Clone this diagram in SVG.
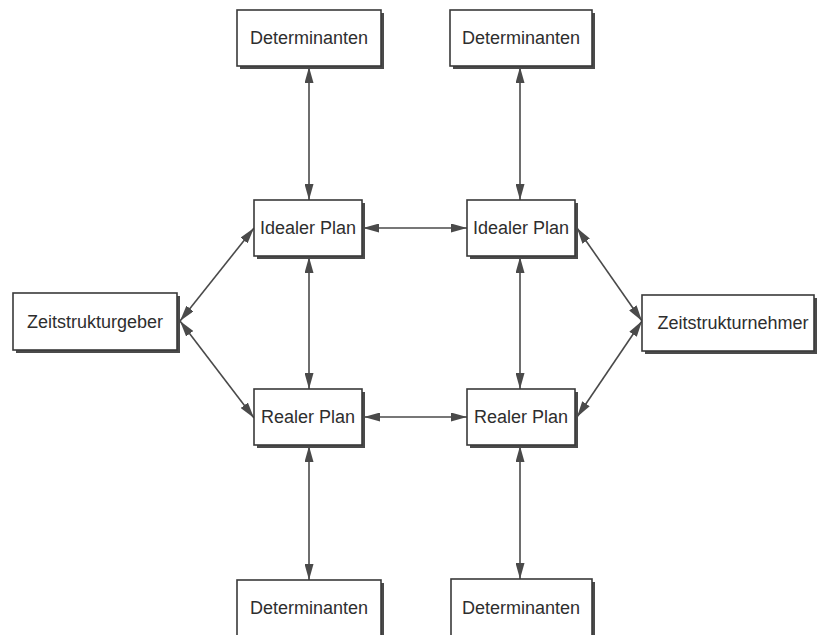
<svg xmlns="http://www.w3.org/2000/svg" width="817" height="635" viewBox="0 0 817 635">
<defs>
<style>
.box{fill:#fff;stroke:#3a3a3a;stroke-width:1.6}
.sh{fill:#4a4a4a}
.lbl{font-family:"Liberation Sans",Arial,sans-serif;font-size:18px;fill:#2e2e2e;text-anchor:middle}
.con{stroke:#4a4a4a;stroke-width:1.6;fill:none;marker-start:url(#ah);marker-end:url(#ah)}
</style>
<marker id="ah" viewBox="0 0 16 9" refX="16" refY="4.5" markerWidth="16" markerHeight="9" markerUnits="userSpaceOnUse" orient="auto-start-reverse">
<path d="M0,0 L16,4.5 L0,9 z" fill="#4a4a4a"/>
</marker>
</defs>
<rect width="817" height="635" fill="#fff"/>
<g id="connectors">
<line class="con" x1="309" y1="67" x2="309" y2="200"/>
<line class="con" x1="520" y1="67" x2="520" y2="200"/>
<line class="con" x1="309" y1="257" x2="309" y2="389"/>
<line class="con" x1="520" y1="257" x2="520" y2="389"/>
<line class="con" x1="309" y1="446" x2="309" y2="580"/>
<line class="con" x1="520" y1="446" x2="520" y2="579"/>
<line class="con" x1="363" y1="228" x2="467" y2="228"/>
<line class="con" x1="364" y1="417" x2="467" y2="417"/>
<line class="con" x1="180" y1="321" x2="254" y2="228"/>
<line class="con" x1="180" y1="321" x2="254" y2="418"/>
<line class="con" x1="577" y1="228" x2="642" y2="321"/>
<line class="con" x1="577" y1="417" x2="642" y2="321"/>
</g>
<g id="det-tl">
<rect class="sh" x="240" y="13" width="144" height="56"/>
<rect class="box" x="237" y="10" width="144" height="56"/>
<text class="lbl" x="309" y="44">Determinanten</text>
</g>
<g id="det-tr">
<rect class="sh" x="453" y="13" width="142" height="56"/>
<rect class="box" x="450" y="10" width="142" height="56"/>
<text class="lbl" x="521" y="44">Determinanten</text>
</g>
<g id="ideal-l">
<rect class="sh" x="257" y="203" width="108" height="56"/>
<rect class="box" x="254" y="200" width="108" height="56"/>
<text class="lbl" x="308" y="234">Idealer Plan</text>
</g>
<g id="ideal-r">
<rect class="sh" x="470" y="203" width="108" height="56"/>
<rect class="box" x="467" y="200" width="108" height="56"/>
<text class="lbl" x="521" y="234">Idealer Plan</text>
</g>
<g id="zeitgeber">
<rect class="sh" x="16" y="296" width="164" height="57"/>
<rect class="box" x="13" y="293" width="164" height="57"/>
<text class="lbl" x="95" y="328">Zeitstrukturgeber</text>
</g>
<g id="zeitnehmer">
<rect class="sh" x="645" y="298" width="172" height="56"/>
<rect class="box" x="642" y="295" width="172" height="56"/>
<text class="lbl" x="733" y="329">Zeitstrukturnehmer</text>
</g>
<g id="real-l">
<rect class="sh" x="257" y="392" width="108" height="56"/>
<rect class="box" x="254" y="389" width="108" height="56"/>
<text class="lbl" x="308" y="423">Realer Plan</text>
</g>
<g id="real-r">
<rect class="sh" x="470" y="392" width="108" height="56"/>
<rect class="box" x="467" y="389" width="108" height="56"/>
<text class="lbl" x="521" y="423">Realer Plan</text>
</g>
<g id="det-bl">
<rect class="sh" x="240" y="583" width="144" height="60"/>
<rect class="box" x="237" y="580" width="144" height="60"/>
<text class="lbl" x="309" y="614">Determinanten</text>
</g>
<g id="det-br">
<rect class="sh" x="454" y="582" width="141" height="60"/>
<rect class="box" x="451" y="579" width="141" height="60"/>
<text class="lbl" x="521" y="614">Determinanten</text>
</g>
</svg>
